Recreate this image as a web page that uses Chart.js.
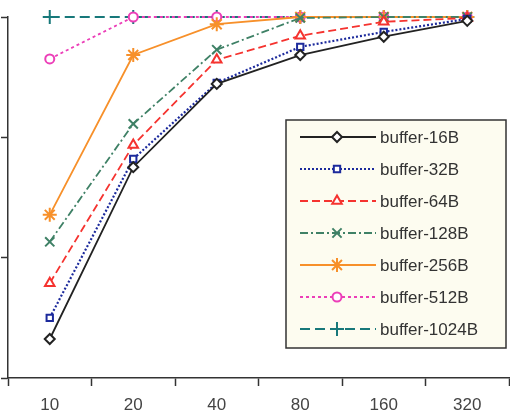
<!DOCTYPE html>
<html lang="en">
<head>
    <meta charset="UTF-8">
    <title>Buffer size curves</title>
    <script src="https://cdn.jsdelivr.net/npm/chart.js"></script>
    <style>
        body { margin: 0; background: #fff; }
        #wrap { width: 510px; height: 414px; }
    </style>
</head>
<body>
    <div id="wrap"><canvas id="bufChart" width="510" height="414"></canvas></div>

    <script>
        // x categories and one array per series (y scale is 25..100)
        const sizes = ['10', '20', '40', '80', '160', '320'];
        const buf16 = [33.1, 68.8, 86.1, 92.1, 95.9, 99.2];
        const buf32 = [37.5, 70.5, 86.3, 93.8, 96.9, 99.6];
        const buf64 = [44.7, 73.4, 91.1, 96.1, 99.0, 99.8];
        const buf128 = [53.3, 77.8, 93.2, 99.8, 100, 100];
        const buf256 = [58.9, 92.1, 98.5, 100, 100, 100];
        const buf512 = [91.3, 100, 100, 100, 100, 100];
        const buf1024 = [100, 100, 100, 100, 100, 100];
        const yTicks = [25, 50, 75, 100];

        const FONT = 'Arial, "Liberation Sans", sans-serif';

        function series(label, data, color, dash, style, radius, width) {
            return {
                label: label,
                data: data,
                borderColor: color,
                borderWidth: width || 1.8,
                borderDash: dash,
                pointStyle: style,
                pointRadius: radius,
                pointBorderColor: color,
                pointBackgroundColor: '#ffffff',
                pointBorderWidth: 2,
                fill: false,
                tension: 0,
                clip: false
            };
        }

        const datasets = [
            series('buffer-16B', buf16, '#222222', [], 'rectRot', 5),
            series('buffer-32B', buf32, '#1c2a9c', [2, 2], 'rect', 4.5, 2.2),
            series('buffer-64B', buf64, '#f5332f', [8, 4], 'triangle', 5.5),
            series('buffer-128B', buf128, '#3f8166', [8, 3, 2, 3], 'crossRot', 6.5),
            series('buffer-256B', buf256, '#f7902a', [], 'star', 7),
            series('buffer-512B', buf512, '#ec3fb8', [3, 3], 'circle', 4.5),
            series('buffer-1024B', buf1024, '#17787a', [10, 5], 'cross', 7, 2.2)
        ];

        // boxed legend in the lower right, drawn with the dataset styles
        const boxLegend = {
            id: 'boxLegend',
            afterDraw(chart) {
                const ctx = chart.ctx;
                const x0 = 286, y0 = 120, w = 220, h = 228;
                ctx.save();
                ctx.fillStyle = '#fdfcf0';
                ctx.fillRect(x0, y0, w, h);
                ctx.strokeStyle = '#333333';
                ctx.lineWidth = 1.5;
                ctx.strokeRect(x0, y0, w, h);
                chart.data.datasets.forEach((ds, i) => {
                    const y = 137 + i * 32;
                    ctx.strokeStyle = ds.borderColor;
                    ctx.lineWidth = ds.borderWidth;
                    ctx.setLineDash(ds.borderDash);
                    ctx.beginPath();
                    ctx.moveTo(300, y);
                    ctx.lineTo(376, y);
                    ctx.stroke();
                    ctx.setLineDash([]);
                    ctx.fillStyle = '#ffffff';
                    ctx.lineWidth = ds.pointBorderWidth;
                    Chart.helpers.drawPoint(ctx, {
                        pointStyle: ds.pointStyle,
                        radius: ds.pointRadius,
                        rotation: 0,
                        borderWidth: ds.pointBorderWidth
                    }, 337, y);
                    ctx.fillStyle = '#333333';
                    ctx.font = '17px ' + FONT;
                    ctx.textBaseline = 'middle';
                    ctx.fillText(ds.label, 380, y + 1);
                });
                ctx.restore();
            }
        };

        const ctx = document.getElementById('bufChart').getContext('2d');
        const bufChart = new Chart(ctx, {
            type: 'line',
            data: { labels: sizes, datasets: datasets },
            options: {
                responsive: false,
                animation: false,
                layout: { autoPadding: false, padding: { top: 17, right: 1, left: 1, bottom: 0 } },
                plugins: {
                    legend: { display: false },
                    tooltip: { enabled: false }
                },
                scales: {
                    x: {
                        offset: true,
                        afterFit: axis => {
                            axis.height = 36;
                            axis.paddingLeft = 0;
                            axis.paddingRight = 0;
                        },
                        grid: {
                            offset: true,
                            drawOnChartArea: false,
                            tickLength: 8,
                            tickWidth: 1.5,
                            tickColor: '#333333'
                        },
                        border: { color: '#333333', width: 1.5 },
                        ticks: {
                            padding: 9,
                            color: '#444444',
                            font: { family: FONT, size: 17 }
                        }
                    },
                    y: {
                        min: yTicks[0],
                        max: yTicks[yTicks.length - 1],
                        afterBuildTicks: axis => { axis.ticks = yTicks.map(v => ({ value: v })); },
                        grid: {
                            drawOnChartArea: false,
                            tickLength: 7,
                            tickWidth: 1.5,
                            tickColor: '#333333'
                        },
                        border: { color: '#333333', width: 1.5 },
                        ticks: { display: false }
                    }
                }
            },
            plugins: [boxLegend]
        });
    </script>
</body>
</html>
